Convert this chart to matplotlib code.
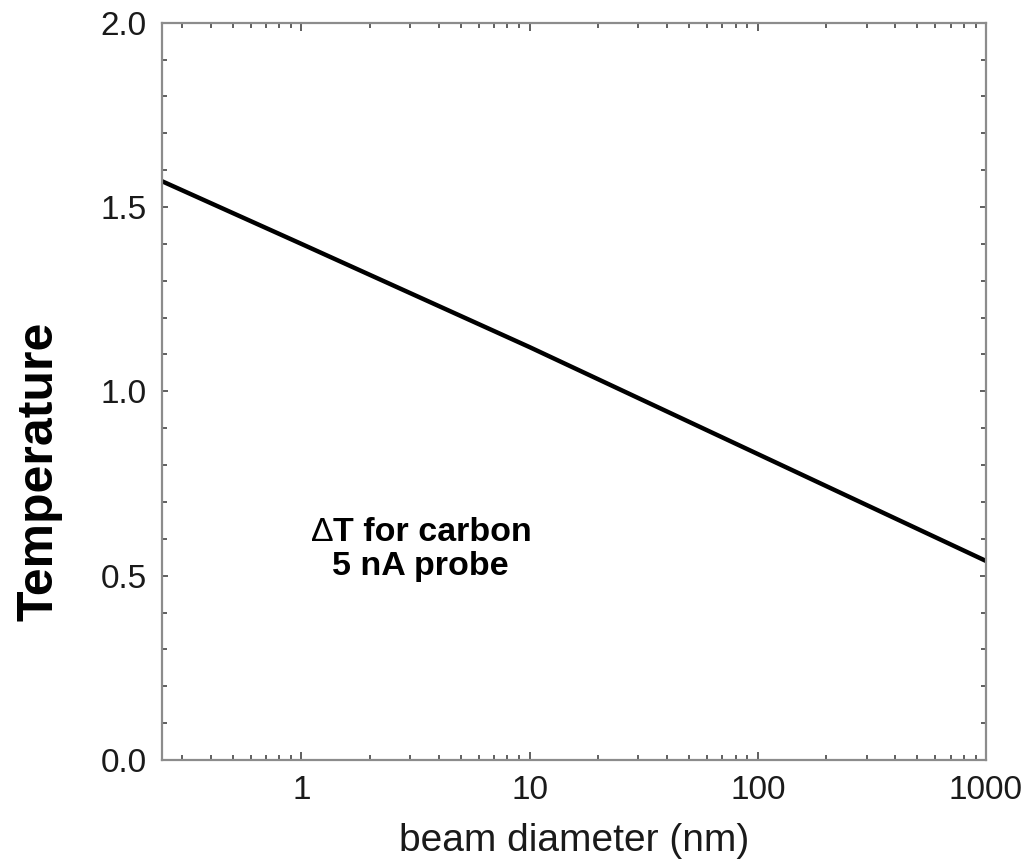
import matplotlib.pyplot as plt
from matplotlib.ticker import LogLocator, MultipleLocator, FixedLocator, FixedFormatter

plt.rcParams['font.family'] = ['Liberation Sans', 'DejaVu Sans']

# beam diameter (nm) vs temperature rise
diameter = [0.245, 1, 10, 100, 1000]
temperature = [1.57, 1.40, 1.12, 0.83, 0.54]

xticks = [1, 10, 100, 1000]
xticklabels = ['1', '10', '100', '1000']
yticks = [0.0, 0.5, 1.0, 1.5, 2.0]
yticklabels = ['0.0', '0.5', '1.0', '1.5', '2.0']

fig = plt.figure(figsize=(10.36, 8.67), dpi=100)
ax = fig.add_axes([0.1564, 0.1234, 0.7953, 0.8504])

ax.plot(diameter, temperature, color='black', lw=3.2, solid_capstyle='butt')

ax.set_xscale('log')
ax.set_xlim(0.245, 1000)
ax.set_ylim(0, 2.0)

ax.xaxis.set_major_locator(FixedLocator(xticks))
ax.xaxis.set_major_formatter(FixedFormatter(xticklabels))
ax.xaxis.set_minor_locator(LogLocator(base=10, subs=range(2, 10)))
ax.yaxis.set_major_locator(FixedLocator(yticks))
ax.yaxis.set_major_formatter(FixedFormatter(yticklabels))
ax.yaxis.set_minor_locator(MultipleLocator(0.1))

for s in ax.spines.values():
    s.set_color('#8c8c8c')
    s.set_linewidth(1.6)

ax.tick_params(which='both', direction='in', top=True, right=True,
               color='#444444', width=1.2)
ax.tick_params(which='major', length=6, labelsize=24, pad=11)
ax.tick_params(which='minor', length=3.5)
ax.tick_params(axis='y', which='major', length=4.5)
for lab in ax.get_xticklabels() + ax.get_yticklabels():
    lab.set_color('#1a1a1a')

ax.set_xlabel('beam diameter (nm)', fontsize=28, labelpad=12, color='#1a1a1a')
ax.set_ylabel('Temperature', fontsize=36, fontweight='bold')
ax.yaxis.set_label_coords(-0.121, 0.392)

# annotation: delta in regular weight, the rest bold
ax.text(1.38, 0.594, 'Δ', ha='right', va='baseline', fontsize=24.5)
ax.text(1.38, 0.594, 'T for carbon', ha='left', va='baseline',
        fontsize=24.5, fontweight='bold')
ax.text(3.33, 0.503, '5 nA probe', ha='center', va='baseline',
        fontsize=24.5, fontweight='bold')

fig.savefig('out.png', dpi=100)
